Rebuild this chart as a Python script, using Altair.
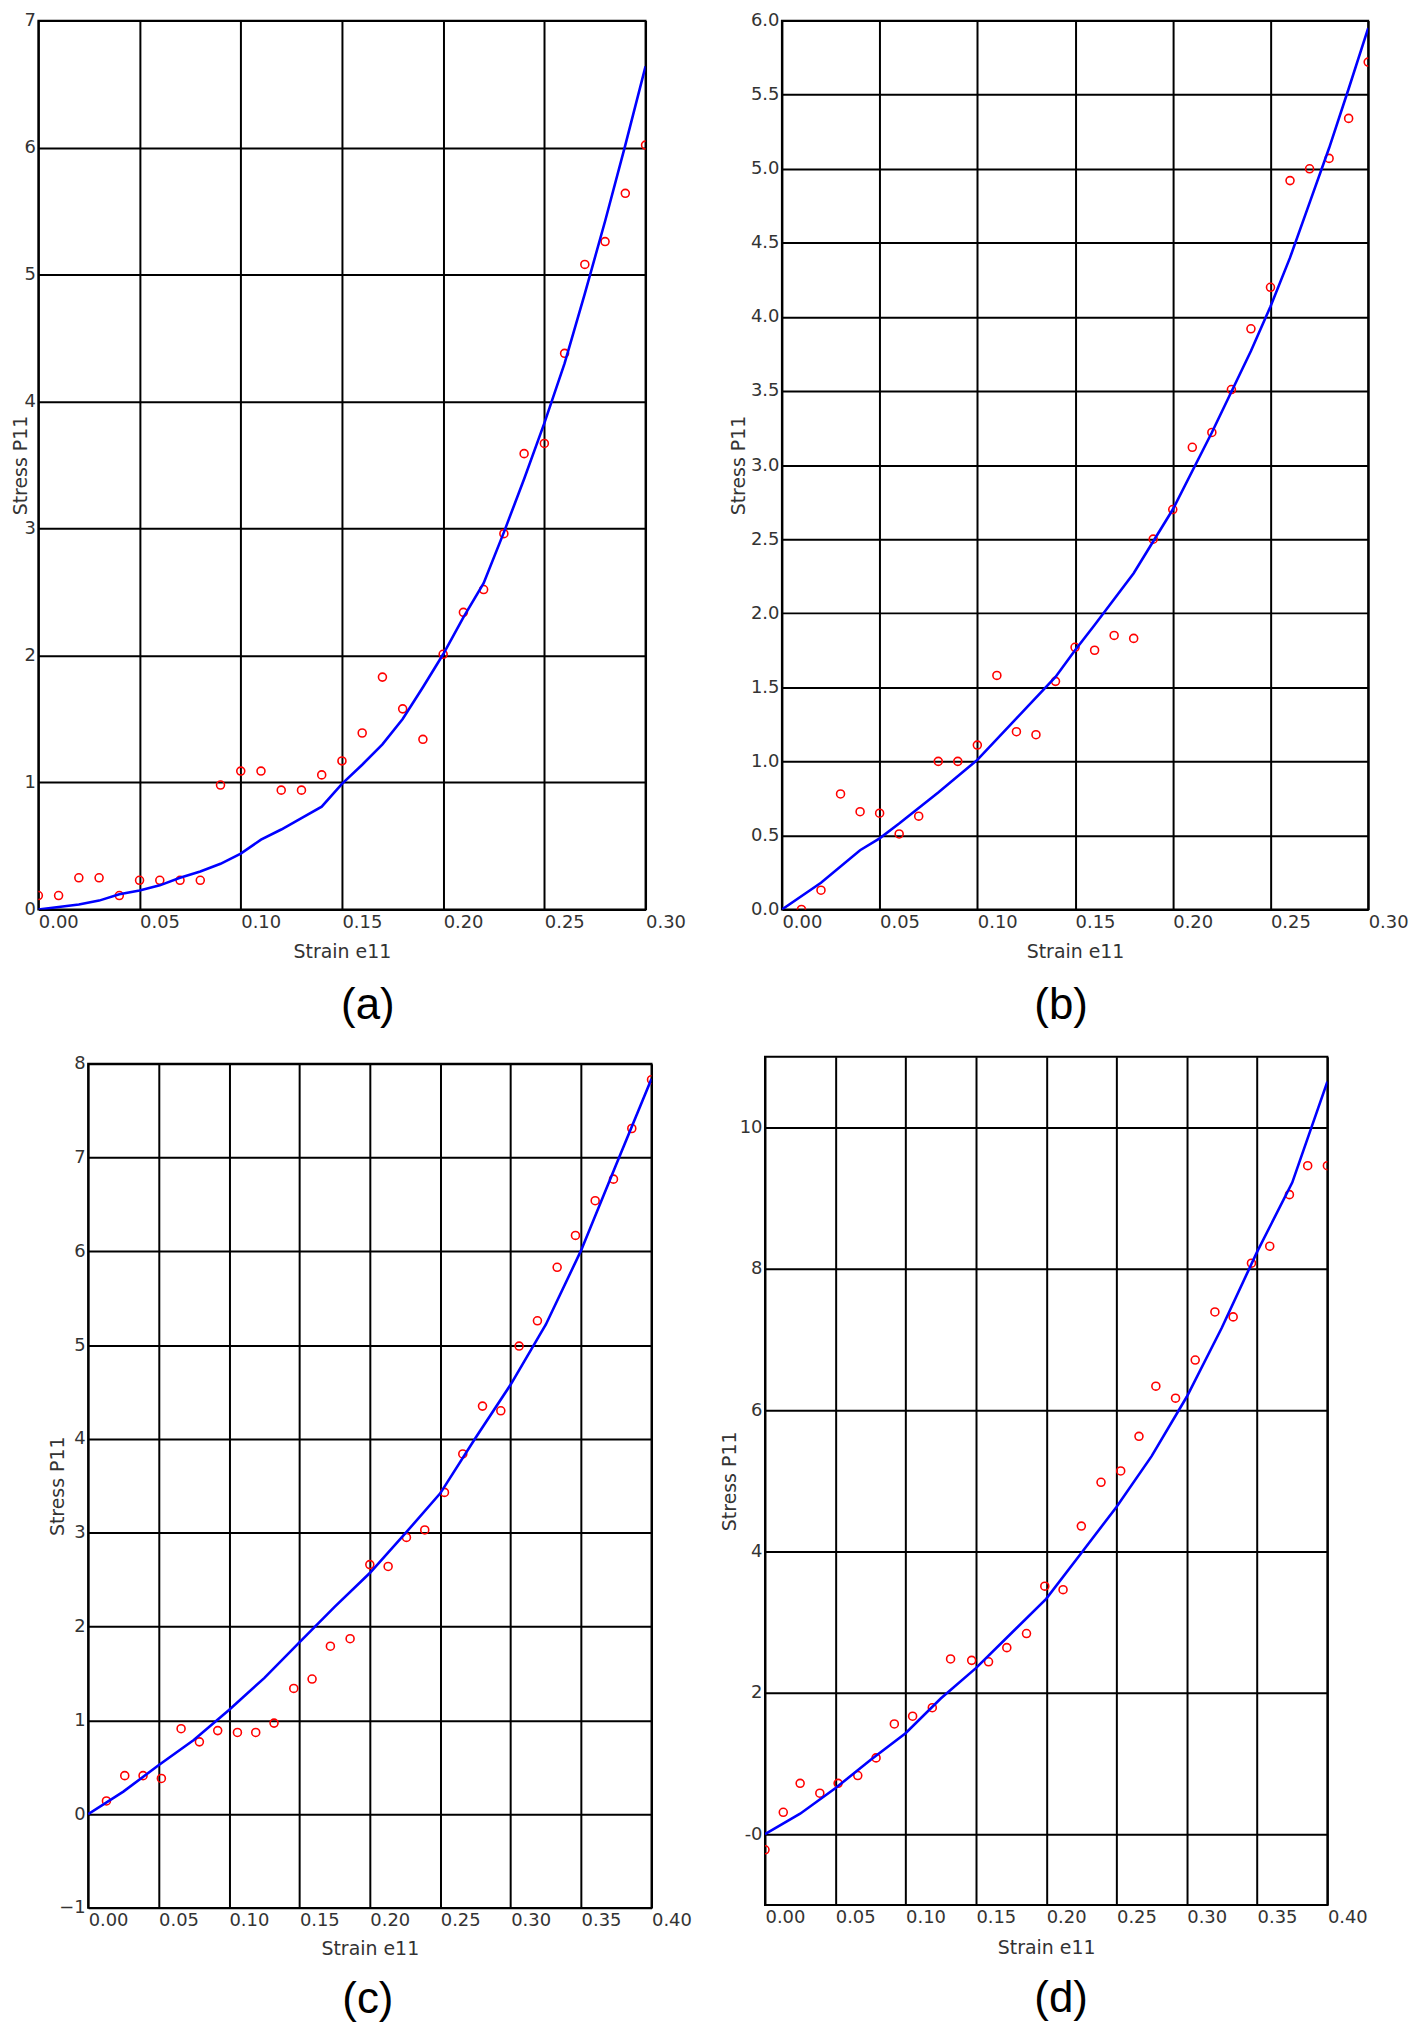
import altair as alt
import pandas as pd

FONT = "DejaVu Sans"

# ---------------- panel (a) ----------------
a_strain = [0.00, 0.01, 0.02, 0.03, 0.04, 0.05, 0.06, 0.07, 0.08, 0.09, 0.10,
            0.11, 0.12, 0.13, 0.14, 0.15, 0.16, 0.17, 0.18, 0.19, 0.20,
            0.21, 0.22, 0.23, 0.24, 0.25, 0.26, 0.27, 0.28, 0.29, 0.30]
a_stress = [0.11, 0.11, 0.25, 0.25, 0.11, 0.23, 0.23, 0.23, 0.23, 0.98, 1.09,
            1.09, 0.94, 0.94, 1.06, 1.17, 1.39, 1.83, 1.58, 1.34, 2.01,
            2.34, 2.52, 2.96, 3.59, 3.67, 4.38, 5.08, 5.26, 5.64, 6.02]
a_fit_strain = [0.00, 0.01, 0.02, 0.03, 0.04, 0.05, 0.06, 0.07, 0.08, 0.09, 0.10,
                0.11, 0.12, 0.13, 0.14, 0.15, 0.16, 0.17, 0.18, 0.19, 0.20,
                0.21, 0.22, 0.23, 0.24, 0.25, 0.26, 0.27, 0.28, 0.29, 0.30]
a_fit_stress = [0.00, 0.02, 0.04, 0.07, 0.12, 0.15, 0.19, 0.25, 0.30, 0.36, 0.44,
                0.55, 0.63, 0.72, 0.81, 0.99, 1.14, 1.30, 1.50, 1.75, 2.01,
                2.30, 2.57, 2.97, 3.39, 3.83, 4.30, 4.85, 5.42, 6.02, 6.64]
a_xticks = [0.00, 0.05, 0.10, 0.15, 0.20, 0.25, 0.30]
a_yticks = [0, 1, 2, 3, 4, 5, 6, 7]

# ---------------- panel (b) ----------------
b_strain = [0.01, 0.02, 0.03, 0.04, 0.05, 0.06, 0.07, 0.08, 0.09, 0.10,
            0.11, 0.12, 0.13, 0.14, 0.15, 0.16, 0.17, 0.18, 0.19, 0.20,
            0.21, 0.22, 0.23, 0.24, 0.25, 0.26, 0.27, 0.28, 0.29, 0.30]
b_stress = [0.00, 0.13, 0.78, 0.66, 0.65, 0.51, 0.63, 1.00, 1.00, 1.11,
            1.58, 1.20, 1.18, 1.54, 1.77, 1.75, 1.85, 1.83, 2.50, 2.70,
            3.12, 3.22, 3.51, 3.92, 4.20, 4.92, 5.00, 5.07, 5.34, 5.72]
b_fit_strain = [0.00, 0.02, 0.04, 0.05, 0.06, 0.08, 0.10, 0.12, 0.14, 0.15, 0.16,
                0.18, 0.20, 0.22, 0.24, 0.25, 0.26, 0.27, 0.28, 0.29, 0.30]
b_fit_stress = [0.00, 0.18, 0.40, 0.48, 0.58, 0.79, 1.01, 1.29, 1.57, 1.75, 1.92,
                2.27, 2.70, 3.22, 3.77, 4.07, 4.40, 4.77, 5.14, 5.54, 5.95]
b_xticks = [0.00, 0.05, 0.10, 0.15, 0.20, 0.25, 0.30]
b_yticks = [0.0, 0.5, 1.0, 1.5, 2.0, 2.5, 3.0, 3.5, 4.0, 4.5, 5.0, 5.5, 6.0]

# ---------------- panel (c) ----------------
c_strain = [0.013, 0.026, 0.039, 0.052, 0.066, 0.079, 0.092, 0.106, 0.119, 0.132,
            0.146, 0.159, 0.172, 0.186, 0.200, 0.213, 0.226, 0.239, 0.253, 0.266,
            0.280, 0.293, 0.306, 0.319, 0.333, 0.346, 0.360, 0.373, 0.386, 0.400]
c_stress = [0.14, 0.41, 0.41, 0.38, 0.91, 0.77, 0.89, 0.87, 0.87, 0.97,
            1.34, 1.44, 1.79, 1.87, 2.66, 2.64, 2.95, 3.03, 3.43, 3.84,
            4.35, 4.30, 4.99, 5.26, 5.83, 6.17, 6.54, 6.77, 7.31, 7.83]
c_fit_strain = [0.000, 0.025, 0.050, 0.075, 0.100, 0.125, 0.150, 0.175, 0.200,
                0.225, 0.250, 0.275, 0.300, 0.325, 0.350, 0.375, 0.400]
c_fit_stress = [0.00, 0.24, 0.52, 0.79, 1.11, 1.45, 1.83, 2.21, 2.57,
                2.99, 3.42, 4.01, 4.58, 5.22, 6.01, 6.93, 7.84]
c_xticks = [0.00, 0.05, 0.10, 0.15, 0.20, 0.25, 0.30, 0.35, 0.40]
c_yticks = [-1, 0, 1, 2, 3, 4, 5, 6, 7, 8]

# ---------------- panel (d) ----------------
d_strain = [0.000, 0.013, 0.025, 0.039, 0.052, 0.066, 0.079, 0.092, 0.105, 0.119,
            0.132, 0.147, 0.159, 0.172, 0.186, 0.199, 0.212, 0.225, 0.239, 0.253,
            0.266, 0.278, 0.292, 0.306, 0.320, 0.333, 0.346, 0.359, 0.373, 0.386, 0.400]
d_stress = [-0.22, 0.31, 0.72, 0.58, 0.72, 0.83, 1.08, 1.56, 1.67, 1.79,
            2.48, 2.46, 2.44, 2.64, 2.84, 3.51, 3.46, 4.36, 4.98, 5.14,
            5.63, 6.34, 6.17, 6.71, 7.39, 7.32, 8.08, 8.32, 9.05, 9.46, 9.46]
d_fit_strain = [0.000, 0.025, 0.050, 0.075, 0.100, 0.125, 0.150, 0.175, 0.200,
                0.225, 0.250, 0.275, 0.300, 0.325, 0.350, 0.375, 0.400]
d_fit_stress = [0.00, 0.29, 0.65, 1.05, 1.43, 1.92, 2.35, 2.84, 3.33,
                3.98, 4.63, 5.35, 6.19, 7.17, 8.24, 9.22, 10.65]
d_xticks = [0.00, 0.05, 0.10, 0.15, 0.20, 0.25, 0.30, 0.35, 0.40]
d_yticks = [0, 2, 4, 6, 8, 10]


def panel(px, py, fx, fy, xdom, ydom, xticks, yticks, xfmt, yfmt, w, h,
          ytitle_x, xtitle_y, tag, tag_dx, tag_offset, ylabel_expr=None):
    pts = pd.DataFrame({"strain": px, "stress": py})
    fit = pd.DataFrame({"strain": fx, "stress": fy})
    x_axis = alt.Axis(values=xticks, format=xfmt, title="Strain e11",
                      titleY=xtitle_y, titleBaseline="middle",
                      labelAlign="left", labelBaseline="top", labelPadding=4,
                      labelFlush=False, labelOverlap=False)
    ykw = dict(values=yticks, format=yfmt, title="Stress P11",
               titleX=ytitle_x, titleBaseline="middle",
               labelAlign="right", labelBaseline="middle", labelPadding=3,
               labelFlush=False, labelOverlap=False)
    if ylabel_expr:
        ykw["labelExpr"] = ylabel_expr
    y_axis = alt.Axis(**ykw)
    xs = alt.Scale(domain=xdom, nice=False, zero=False)
    ys = alt.Scale(domain=ydom, nice=False, zero=False)
    enc = dict(x=alt.X("strain:Q", scale=xs, axis=x_axis),
               y=alt.Y("stress:Q", scale=ys, axis=y_axis))
    circles = alt.Chart(pts).mark_point(
        shape="circle", filled=False, color="#ff0000", size=64,
        strokeWidth=1.6, clip=True, opacity=1).encode(**enc)
    line = alt.Chart(fit).mark_line(
        color="#0000ff", strokeWidth=2.6, clip=True).encode(**enc)
    return alt.layer(circles, line).properties(
        width=w, height=h,
        title=alt.TitleParams(tag, orient="bottom", anchor="middle", dx=tag_dx,
                              offset=tag_offset, fontSize=44,
                              font="Liberation Sans", fontWeight="normal",
                              color="black"))


pa = panel(a_strain, a_stress, a_fit_strain, a_fit_stress, [0, 0.30], [0, 7],
           a_xticks, a_yticks, ".2f", "d", 610, 893, -18, 42, "(a)", 26, 23)
pb = panel(b_strain, b_stress, b_fit_strain, b_fit_stress, [0, 0.30], [0, 6],
           b_xticks, b_yticks, ".2f", ".1f", 589, 893, -44, 42, "(b)", -14, 23)
pc = panel(c_strain, c_stress, c_fit_strain, c_fit_stress, [0, 0.40], [-1, 8],
           c_xticks, c_yticks, ".2f", "d", 566, 848, -31, 41, "(c)", -2, 20)
pd_ = panel(d_strain, d_stress, d_fit_strain, d_fit_stress, [0, 0.40], [-1, 11],
            d_xticks, d_yticks, ".2f", "d", 565, 852, -36, 43, "(d)", 15, 20,
            ylabel_expr="datum.value == 0 ? '-0' : datum.label")


def spacer(w, h):
    return alt.Chart(pd.DataFrame({"v": [0]})).mark_point(opacity=0).properties(
        width=w, height=h, view=alt.ViewBackground(strokeWidth=0))


# With flush bounds a nested concat counts as size 0, so the spacings below
# are measured from the start of the previous nested group.
row1 = alt.hconcat(pa, pb, spacing=137, bounds="flush")
c_col = alt.vconcat(spacer(1, 1), pc, spacing=6, bounds="flush")
row2 = alt.hconcat(spacer(1, 1),
                   alt.hconcat(c_col, pd_, spacing=566 + 114, bounds="flush"),
                   spacing=49, bounds="flush")

chart = alt.vconcat(row1, row2, spacing=1041, bounds="flush").configure_axis(
    grid=True, gridColor="black", gridWidth=2, gridOpacity=1,
    domain=False, ticks=False,
    labelFont=FONT, labelFontSize=18, labelColor="#333333",
    titleFont=FONT, titleFontSize=19, titleFontWeight="normal",
    titleColor="#333333"
).configure_view(stroke="black", strokeWidth=2).properties(
    padding={"left": 2.5, "top": -2, "right": 0, "bottom": 0},
    background="white")

chart.save("out.html", embed_options={"renderer": "svg", "actions": False})
